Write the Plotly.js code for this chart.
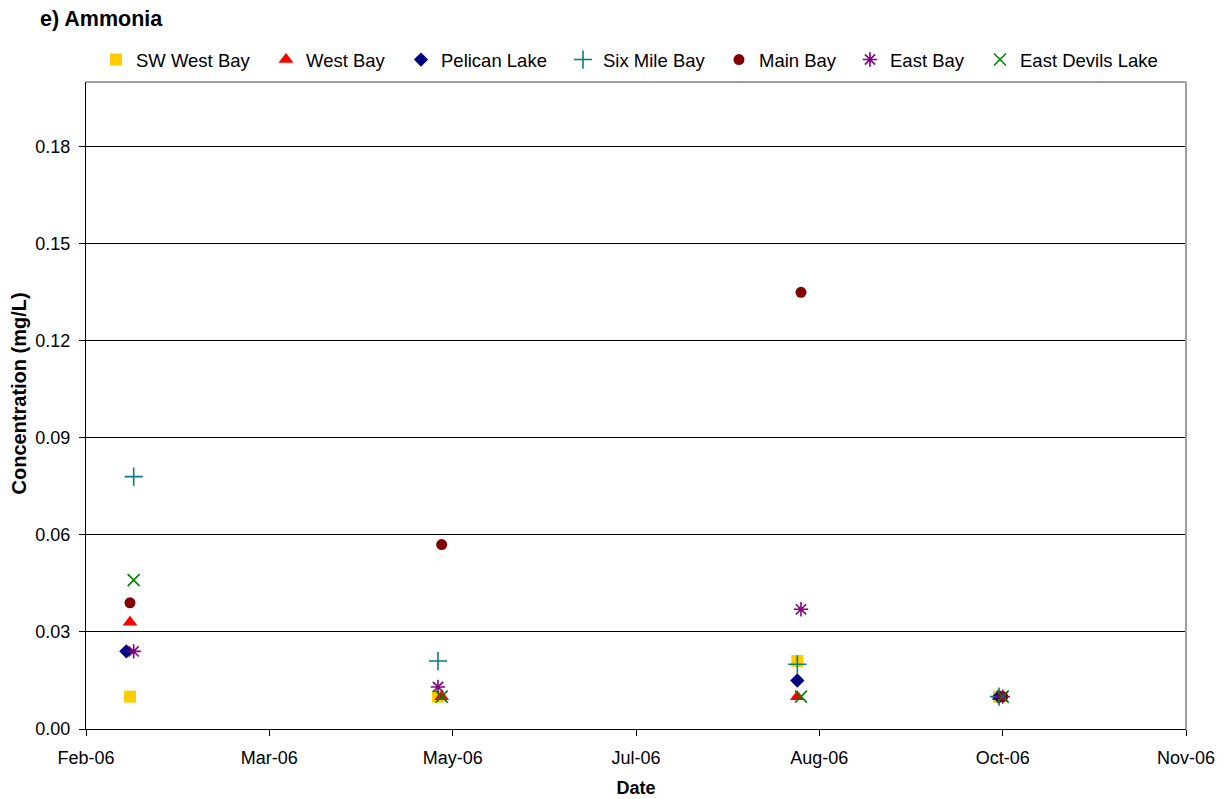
<!DOCTYPE html>
<html>
<head>
<meta charset="utf-8">
<script src="https://cdn.plot.ly/plotly-3.0.1.min.js"></script>
<style>
  html, body { margin: 0; padding: 0; background: #ffffff; }
  #chart { width: 1226px; height: 799px; }
</style>
</head>
<body>
<div id="chart"></div>
<script>
// ---- Data ----
const seriesNames = ['SW West Bay', 'West Bay', 'Pelican Lake', 'Six Mile Bay', 'Main Bay', 'East Bay', 'East Devils Lake'];

const swWestBayDates = ['2006-02-13', '2006-05-08', '2006-08-14', '2006-10-08'];
const swWestBayVals  = [0.010, 0.010, 0.021, 0.010];

const westBayDates = ['2006-02-13', '2006-05-09', '2006-08-14', '2006-10-08'];
const westBayVals  = [0.033, 0.010, 0.010, 0.010];

const pelicanLakeDates = ['2006-02-12', '2006-05-09', '2006-08-14', '2006-10-08'];
const pelicanLakeVals  = [0.024, null, 0.015, 0.010];

const sixMileBayDates = ['2006-02-14', '2006-05-08', '2006-08-14', '2006-10-08'];
const sixMileBayVals  = [0.078, 0.021, 0.020, 0.010];

const mainBayDates = ['2006-02-13', '2006-05-09', '2006-08-15', '2006-10-09'];
const mainBayVals  = [0.039, 0.057, 0.135, 0.010];

const eastBayDates = ['2006-02-14', '2006-05-08', '2006-08-15', '2006-10-09'];
const eastBayVals  = [0.024, 0.013, 0.037, 0.010];

const eastDevilsLakeDates = ['2006-02-14', '2006-05-09', '2006-08-15', '2006-10-09'];
const eastDevilsLakeVals  = [0.046, 0.010, 0.010, 0.010];

const xTickVals  = ['2006-02-01', '2006-03-23', '2006-05-12', '2006-07-01', '2006-08-20', '2006-10-09', '2006-11-28'];
const xTickText  = ['Feb-06', 'Mar-06', 'May-06', 'Jul-06', 'Aug-06', 'Oct-06', 'Nov-06'];
const yTickVals  = [0, 0.03, 0.06, 0.09, 0.12, 0.15, 0.18];

// ---- Styling ----
const FONT = 'Liberation Sans, Arial, Helvetica, sans-serif';
const W = 1226, H = 799;

const styles = [
  { symbol: 'square',          color: '#FFCC00', size: 12, lw: 0 },
  { symbol: 'triangle-up',     color: '#FF0000', size: 13, lw: 0 },
  { symbol: 'diamond',         color: '#000080', size: 11, lw: 0 },
  { symbol: 'cross-thin-open', color: '#008080', size: 13, lw: 1.6 },
  { symbol: 'circle',          color: '#800000', size: 11, lw: 0 },
  { symbol: 'asterisk-open',   color: '#800080', size: 12, lw: 1.6 },
  { symbol: 'x-thin-open',     color: '#008000', size: 12, lw: 1.6 }
];

const xs = [swWestBayDates, westBayDates, pelicanLakeDates, sixMileBayDates, mainBayDates, eastBayDates, eastDevilsLakeDates];
const ys = [swWestBayVals, westBayVals, pelicanLakeVals, sixMileBayVals, mainBayVals, eastBayVals, eastDevilsLakeVals];

// legend marker target positions (px, container) for each entry
const legendMarkerX = [123, 293, 428, 590, 746, 877, 1007];

const traces = seriesNames.map((name, i) => ({
  type: 'scatter',
  mode: 'markers',
  name: name,
  x: xs[i],
  y: ys[i],
  legend: i === 0 ? 'legend' : 'legend' + (i + 1),
  marker: {
    symbol: styles[i].symbol,
    color: styles[i].color,
    size: styles[i].size,
    line: { color: styles[i].color, width: styles[i].lw }
  },
  hoverinfo: 'x+y+name'
}));

const layout = {
  width: W,
  height: H,
  paper_bgcolor: '#ffffff',
  plot_bgcolor: '#ffffff',
  font: { family: FONT, size: 18, color: '#000000' },
  margin: { l: 86, r: 40, t: 82, b: 70, pad: 0 },
  title: {
    text: '<b>e) Ammonia</b>',
    font: { family: FONT, size: 21.5, color: '#000000' },
    xref: 'container', x: 40 / W, xanchor: 'left',
    yref: 'container', y: 1 - 18 / H, yanchor: 'middle'
  },
  xaxis: {
    type: 'date',
    range: ['2006-02-01', '2006-11-28'],
    tickmode: 'array',
    tickvals: xTickVals,
    ticktext: xTickText,
    ticks: 'outside',
    ticklen: 6,
    tickcolor: '#000000',
    ticklabelstandoff: 6,
    showline: true,
    linecolor: '#000000',
    linewidth: 1,
    showgrid: false,
    zeroline: false,
    tickfont: { family: FONT, size: 18 },
    title: { text: '<b>Date</b>', font: { family: FONT, size: 18 }, standoff: 14 }
  },
  yaxis: {
    range: [0, 0.2],
    tickmode: 'array',
    tickvals: yTickVals,
    tickformat: '.2f',
    ticks: 'outside',
    ticklen: 6,
    tickcolor: '#000000',
    ticklabelstandoff: 5,
    showline: true,
    linecolor: '#000000',
    linewidth: 1,
    showgrid: true,
    gridcolor: '#000000',
    gridwidth: 1,
    zeroline: false,
    tickfont: { family: FONT, size: 18 }
  },
  annotations: [
    {
      text: '<b>Concentration (mg/L)</b>',
      textangle: -90,
      xref: 'paper', yref: 'paper',
      x: (19 - 86) / 1100, y: (729 - 393.5) / 647,
      xanchor: 'center', yanchor: 'middle',
      showarrow: false,
      font: { family: FONT, size: 20, color: '#000000' }
    }
  ],
  shapes: [
    { type: 'line', xref: 'paper', yref: 'paper', x0: 0, x1: 1, y0: 1, y1: 1, line: { color: '#A0A0A0', width: 2 } },
    { type: 'line', xref: 'paper', yref: 'paper', x0: 1, x1: 1, y0: 0, y1: 1, line: { color: '#A0A0A0', width: 2 } }
  ],
  showlegend: true
};

// one single-entry legend per series, positioned like the reference
legendMarkerX.forEach((px, i) => {
  const key = i === 0 ? 'legend' : 'legend' + (i + 1);
  layout[key] = {
    orientation: 'h',
    xref: 'container', x: (px - 27) / W, xanchor: 'left',
    yref: 'container', y: 1 - 60 / H, yanchor: 'middle',
    bgcolor: 'rgba(0,0,0,0)',
    borderwidth: 0,
    itemwidth: 30,
    font: { family: FONT, size: 18.5, color: '#000000' }
  };
});

Plotly.newPlot('chart', traces, layout, { displayModeBar: false });
</script>
</body>
</html>
